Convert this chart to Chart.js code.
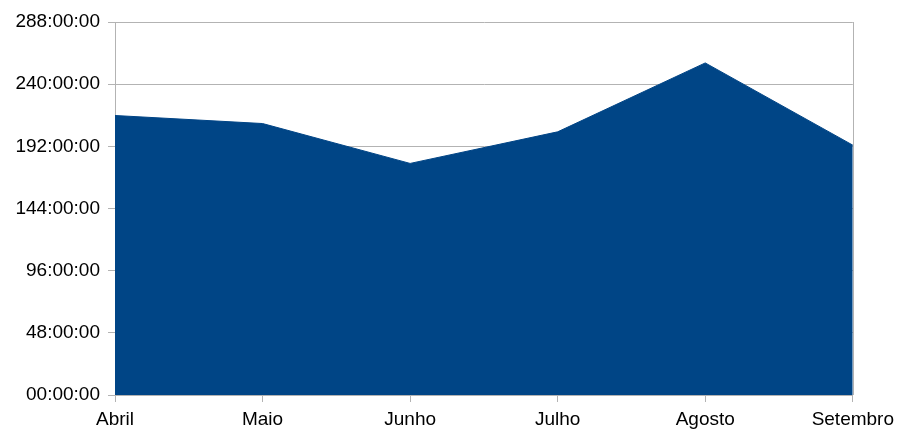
<!DOCTYPE html>
<html>
<head>
<meta charset="utf-8">
<script src="https://cdn.jsdelivr.net/npm/chart.js@4/dist/chart.umd.min.js"></script>
<style>
  html, body { margin: 0; padding: 0; background: #fff; }
  #wrap { width: 900px; height: 431px; }
</style>
</head>
<body>
<div id="wrap"><canvas id="chart"></canvas></div>
<script>
// Months on the x axis
const months = ['Abril', 'Maio', 'Junho', 'Julho', 'Agosto', 'Setembro'];
// Total hours per month
const hours = [215.8, 209.6, 178.8, 203.2, 256.4, 192.9];
// y axis range, in hours
const yMax = 288;
const yStep = 48;

const fillBlue = '#004586';
const gridGray = '#b3b3b3';

// format hours as HH:00:00
function hhmmss(v) {
    return String(v).padStart(2, '0') + ':00:00';
}

// draws the right edge of the plot box
const rightBorder = {
    id: 'rightBorder',
    afterDraw(chart) {
        const a = chart.chartArea;
        const ctx = chart.ctx;
        ctx.save();
        ctx.strokeStyle = gridGray;
        ctx.lineWidth = 1;
        ctx.beginPath();
        ctx.moveTo(Math.round(a.right) + 0.5, a.top);
        ctx.lineTo(Math.round(a.right) + 0.5, a.bottom);
        ctx.stroke();
        ctx.restore();
    }
};

Chart.defaults.font.family = "'Liberation Sans', Arial, sans-serif";
Chart.defaults.font.size = 19;
Chart.defaults.color = '#000';

new Chart(document.getElementById('chart'), {
    type: 'line',
    data: {
        labels: months,
        datasets: [{
            data: hours,
            backgroundColor: fillBlue,
            borderColor: fillBlue,
            borderWidth: 1,
            fill: 'origin',
            tension: 0,
            pointRadius: 0
        }]
    },
    options: {
        responsive: true,
        maintainAspectRatio: false,
        animation: false,
        layout: { padding: { top: 22, right: 46, left: 0, bottom: 0 } },
        plugins: {
            legend: { display: false },
            tooltip: { enabled: false }
        },
        scales: {
            x: {
                offset: false,
                grid: { drawOnChartArea: false, color: gridGray, tickLength: 7 },
                border: { color: gridGray },
                ticks: { padding: 6, maxRotation: 0, autoSkip: false },
                afterFit(scale) { scale.height = 36; }
            },
            y: {
                min: 0,
                max: yMax,
                grid: { color: gridGray, tickLength: 7 },
                border: { color: gridGray },
                ticks: { stepSize: yStep, padding: 8, callback: hhmmss },
                afterFit(scale) { scale.width = 115; }
            }
        }
    },
    plugins: [rightBorder]
});
</script>
</body>
</html>
